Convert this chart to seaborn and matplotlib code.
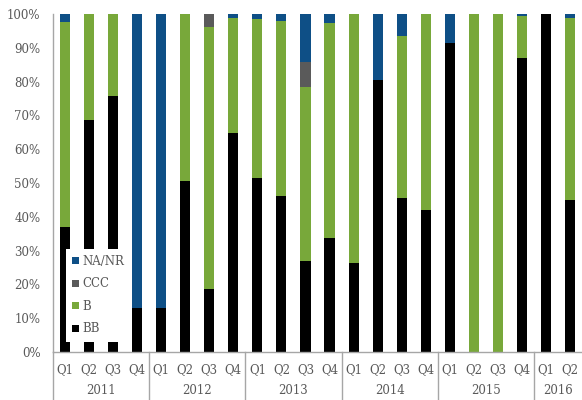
import numpy as np
import pandas as pd
import matplotlib
matplotlib.use("Agg")
import matplotlib.pyplot as plt
import matplotlib.transforms as mtransforms
from matplotlib.patches import Patch
import seaborn as sns

years = ["2011", "2012", "2013", "2014", "2015", "2016"]
quarters = ["Q1", "Q2", "Q3", "Q4"] * 5 + ["Q1", "Q2"]
periods = [f"{y} {q}" for y, n in zip(years, [4, 4, 4, 4, 4, 2]) for q in ["Q1", "Q2", "Q3", "Q4"][:n]]

BB = [37.0, 68.7, 75.8, 13.1, 13.1, 50.5, 18.5, 64.7, 51.5, 46.3, 27.0, 33.7,
      26.2, 80.5, 45.5, 41.9, 91.3, 0.0, 0.0, 86.9, 100.0, 45.0]
B = [60.7, 31.3, 24.2, 0.0, 0.0, 49.5, 77.7, 34.0, 47.0, 51.6, 51.5, 63.5,
     73.8, 0.0, 48.1, 58.1, 0.0, 100.0, 100.0, 12.5, 0.0, 53.7]
CCC = [0, 0, 0, 0, 0, 0, 3.8, 0, 0, 0, 7.4, 0,
       0, 0, 0, 0, 0, 0, 0, 0, 0, 0]
series_names = ["NA/NR", "CCC", "B", "BB"]
colors = {"NA/NR": "#0E4F86", "CCC": "#5A5A5A", "B": "#78A83A", "BB": "#000000"}

df = pd.DataFrame({"period": periods, "BB": BB, "B": B, "CCC": CCC})
df["NA/NR"] = 100 - df["BB"] - df["B"] - df["CCC"]
# cumulative tops for stacking
df["top_BB"] = df["BB"]
df["top_B"] = df["top_BB"] + df["B"]
df["top_CCC"] = df["top_B"] + df["CCC"]
df["top_NA/NR"] = df["top_CCC"] + df["NA/NR"]

W, H = 582, 400
fig = plt.figure(figsize=(W / 100, H / 100), dpi=100)
ax = fig.add_axes([53 / W, 48 / H, 1 - 53 / W, (352 - 14) / H])

grey = "#595959"
font = ["DejaVu Serif"]
for name in ["NA/NR", "CCC", "B", "BB"]:
    sns.barplot(data=df, x="period", y=f"top_{name}", order=periods,
                color=colors[name], width=0.42, saturation=1,
                edgecolor="none", linewidth=0, ax=ax)

ax.set_ylim(0, 100)
ax.set_xlim(-0.5, len(periods) - 0.5)
ax.set_yticks(np.arange(0, 101, 10))
ax.set_yticklabels([f"{v}%" for v in range(0, 101, 10)], family=font,
                   fontsize=8.5, color=grey)
ax.set_xticks(range(len(periods)))
ax.set_xticklabels(quarters, family=font, fontsize=8.5, color=grey)
ax.tick_params(axis="both", length=0)
ax.tick_params(axis="x", pad=8)
ax.tick_params(axis="y", pad=9)
ax.set_xlabel("")
ax.set_ylabel("")
for s in ["top", "right"]:
    ax.spines[s].set_visible(False)
for s in ["left", "bottom"]:
    ax.spines[s].set_color("#A6A6A6")
    ax.spines[s].set_linewidth(1.0)

trans = mtransforms.blended_transform_factory(ax.transData, ax.transAxes)
bounds = [-0.5, 3.5, 7.5, 11.5, 15.5, 19.5]
for b in bounds:
    ax.plot([b, b], [0, -0.145], transform=trans, color="#A6A6A6",
            lw=1.0, clip_on=False)
starts = [0, 4, 8, 12, 16, 20]
counts = [4, 4, 4, 4, 4, 2]
for y, s, n in zip(years, starts, counts):
    ax.text(s + (n - 1) / 2, -0.113, y, transform=trans, ha="center",
            va="center", family=font, fontsize=8.5, color=grey)

handles = [Patch(facecolor=colors[n], edgecolor="none", label=n) for n in series_names]
leg = ax.legend(handles=handles, loc="lower left", bbox_to_anchor=(0.024, 0.03),
                borderaxespad=0, frameon=True, fancybox=False,
                handlelength=0.55, handleheight=0.55, handletextpad=0.3,
                labelspacing=0.8, borderpad=0.55,
                prop={"family": font, "size": 8.5})
leg.get_frame().set_facecolor("white")
leg.get_frame().set_edgecolor("none")
leg.get_frame().set_alpha(1)
for t in leg.get_texts():
    t.set_color(grey)

fig.savefig("out.png", dpi=100)
